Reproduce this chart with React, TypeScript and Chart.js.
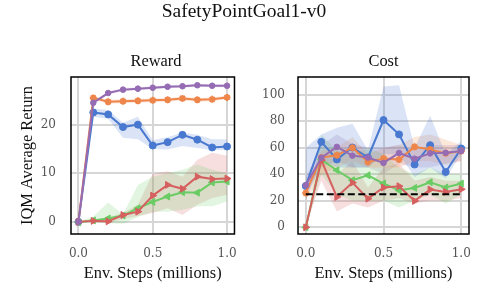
import React, { useEffect, useRef } from "react";
import { Chart, registerables } from "chart.js";
Chart.register(...registerables);

// ---------- data ----------
const STEPS = [0, 0.1, 0.2, 0.3, 0.4, 0.5, 0.6, 0.7, 0.8, 0.9, 1.0];
const X_TICKS = [0, 0.5, 1.0];
const REWARD_TICKS = [0, 10, 20];
const COST_TICKS = [0, 20, 40, 60, 80, 100];
const COST_LIMIT = 25;

// Reward panel
const R_BLUE = [0, 22.5, 22.1, 19.5, 20.0, 15.7, 16.4, 17.9, 16.9, 15.3, 15.5];
const R_BLUE_LO = [0, 21.6, 21.2, 17.3, 17.0, 15.0, 14.9, 15.6, 15.2, 14.8, 14.8];
const R_BLUE_HI = [0, 23.3, 23.0, 20.4, 21.6, 16.8, 17.4, 18.4, 17.9, 17.0, 17.0];
const R_ORANGE = [0, 25.5, 24.7, 24.8, 24.9, 25.0, 25.1, 25.4, 25.1, 25.2, 25.6];
const R_ORANGE_LO = [0, 25.1, 24.3, 24.4, 24.5, 24.6, 24.7, 25.0, 24.7, 24.8, 25.2];
const R_ORANGE_HI = [0, 25.9, 25.1, 25.2, 25.3, 25.4, 25.5, 25.8, 25.5, 25.6, 26.0];
const R_GREEN = [-0.1, 0.3, 0.7, 1.3, 2.8, 4.1, 5.2, 6.1, 6.0, 8.1, 8.3];
const R_GREEN_LO = [-0.2, -0.1, -0.3, -0.4, 1.0, 2.1, 2.1, 2.5, 3.2, 3.2, 4.2];
const R_GREEN_HI = [0, 1.1, 4.0, 1.5, 7.6, 9.3, 10.0, 10.7, 11.8, 10.7, 10.0];
const R_RED = [0, 0.2, 0.1, 1.4, 2.1, 5.4, 7.6, 6.8, 9.3, 8.8, 8.9];
const R_RED_LO = [0, 0, -0.2, 0.6, 1.2, 1.8, 2.8, 1.4, 3.5, 4.9, 5.6];
const R_RED_HI = [0, 0.5, 0.9, 1.8, 3.5, 9.9, 10.4, 9.3, 12.8, 14.2, 13.6];
const R_PURPLE = [0, 24.5, 26.5, 27.2, 27.4, 27.6, 27.8, 27.9, 28.1, 28.0, 28.0];
const R_PURPLE_LO = [0, 24.2, 26.2, 26.9, 27.1, 27.3, 27.5, 27.6, 27.8, 27.7, 27.7];
const R_PURPLE_HI = [0, 24.8, 26.8, 27.5, 27.7, 27.9, 28.1, 28.2, 28.4, 28.3, 28.3];

// Cost panel
const C_BLUE = [31.2, 64.4, 51.1, 60.1, 52.6, 80.8, 70.0, 47.3, 61.9, 41.7, 59.4];
const C_BLUE_LO = [20, 50, 45, 45, 45, 55, 55, 38, 45, 37, 55];
const C_BLUE_HI = [60, 70, 75, 78, 58, 106, 107, 60, 84, 55, 65];
const C_ORANGE = [25.9, 52.6, 54.3, 60.0, 49.3, 51.8, 51.0, 60.6, 58.7, 55.7, 57.5];
const C_ORANGE_LO = [20, 40, 45, 50, 45, 45, 45, 50, 50, 47, 50];
const C_ORANGE_HI = [30, 58, 60, 68, 55, 60, 62, 68, 70, 66, 62];
const C_GREEN = [0, 51.0, 43.0, 35.5, 39.2, 33.0, 27.9, 29.7, 34.0, 30.0, 33.0];
const C_GREEN_LO = [0, 40, 25, 20, 20, 20, 15, 20, 25, 18, 25];
const C_GREEN_HI = [0, 70, 58, 55, 60, 55, 45, 40, 45, 40, 40];
const C_RED = [0, 50.6, 22.9, 33.7, 21.6, 30.0, 31.0, 19.9, 28.5, 26.7, 28.7];
const C_RED_LO = [0, 35, 12, 18, 15, 20, 22, 18, 20, 20, 22];
const C_RED_HI = [0, 55, 40, 50, 30, 45, 48, 35, 38, 35, 35];
const C_PURPLE = [31.7, 52.4, 60.6, 54.0, 52.6, 48.5, 56.0, 51.7, 55.7, 56.2, 57.5];
const C_PURPLE_LO = [25, 45, 50, 45, 45, 40, 48, 45, 45, 48, 50];
const C_PURPLE_HI = [38, 62, 70, 63, 60, 60, 62, 58, 62, 62, 62];

// ---------- styles ----------
const SERIF = "'Liberation Serif', 'Times New Roman', serif";
const TICK_FONT = "'DejaVu Serif', serif";
const COL = {
  blue: [72, 120, 208],
  orange: [238, 133, 74],
  green: [106, 204, 100],
  red: [214, 95, 95],
  purple: [149, 108, 180],
};
const rgb = (c: number[], a = 1) => `rgba(${c[0]},${c[1]},${c[2]},${a})`;

type Series = {
  mean: number[];
  lo: number[];
  hi: number[];
  color: number[];
  pointStyle: string;
  radius: number;
  rotation: number;
  drawOrder: number;
};

const pts = (arr: number[]) => arr.map((y, i) => ({ x: STEPS[i], y }));

function buildDatasets(series: Series[]) {
  const ds: any[] = [];
  series.forEach((s, i) => {
    ds.push({
      data: pts(s.hi),
      fill: "+1",
      backgroundColor: rgb(s.color, 0.2),
      borderWidth: 0,
      pointRadius: 0,
      order: 30 + i,
    });
    ds.push({
      data: pts(s.lo),
      fill: false,
      borderWidth: 0,
      pointRadius: 0,
      order: 30 + i,
    });
  });
  series.forEach((s) => {
    ds.push({
      data: pts(s.mean),
      borderColor: rgb(s.color),
      backgroundColor: rgb(s.color),
      borderWidth: 2,
      pointStyle: s.pointStyle,
      pointRadius: s.radius,
      pointRotation: s.rotation,
      pointBorderColor: rgb(s.color),
      pointBackgroundColor: rgb(s.color),
      pointBorderWidth: s.pointStyle === "star" ? 2 : 1,
      fill: false,
      tension: 0,
      order: s.drawOrder,
    });
  });
  return ds;
}

const framePlugin = {
  id: "frame",
  afterDraw(chart: any) {
    const { ctx, chartArea } = chart;
    const { left, top, right, bottom } = chartArea;
    ctx.save();
    ctx.strokeStyle = "#000";
    ctx.lineWidth = 1.5;
    ctx.strokeRect(left, top, right - left, bottom - top);
    ctx.restore();
  },
};

function makeConfig(
  datasets: any[],
  yMin: number,
  yMax: number,
  yTicks: number[],
  yWidth: number,
  yPad: number,
  padRight: number,
  yTitle: string | null
): any {
  return {
    type: "line",
    data: { datasets },
    plugins: [framePlugin],
    options: {
      responsive: false,
      animation: false,
      devicePixelRatio: 1,
      layout: { padding: { top: 77, right: padRight, left: 0, bottom: 0 } },
      plugins: { legend: { display: false }, tooltip: { enabled: false }, title: { display: false } },
      scales: {
        x: {
          type: "linear",
          min: -0.05,
          max: 1.05,
          afterBuildTicks: (s: any) => {
            s.ticks = X_TICKS.map((v) => ({ value: v }));
          },
          afterFit: (s: any) => {
            s.height = 68;
          },
          grid: { color: "#d6d6d6", lineWidth: 2, drawTicks: false },
          border: { display: false },
          ticks: {
            padding: 13,
            autoSkip: false,
            maxRotation: 0,
            color: "#555",
            font: { family: TICK_FONT, size: 12 },
            callback: (v: any) => Number(v).toFixed(1),
          },
          title: {
            display: true,
            text: "Env. Steps (millions)",
            color: "#111",
            font: { family: SERIF, size: 16.4 },
            padding: { top: 0, bottom: 18 },
          },
        },
        y: {
          type: "linear",
          min: yMin,
          max: yMax,
          afterBuildTicks: (s: any) => {
            s.ticks = yTicks.map((v) => ({ value: v }));
          },
          afterFit: (s: any) => {
            s.width = yWidth;
          },
          grid: { color: "#d6d6d6", lineWidth: 2, drawTicks: false },
          border: { display: false },
          ticks: {
            padding: yPad,
            autoSkip: false,
            color: "#555",
            font: { family: TICK_FONT, size: 12 },
            callback: (v: any) => String(v),
          },
          title: {
            display: !!yTitle,
            text: yTitle || "",
            color: "#111",
            font: { family: SERIF, size: 16.4 },
            padding: { top: 17.5, bottom: 0 },
          },
        },
      },
    },
  };
}

const rewardSeries: Series[] = [
  { mean: R_BLUE, lo: R_BLUE_LO, hi: R_BLUE_HI, color: COL.blue, pointStyle: "circle", radius: 3.5, rotation: 0, drawOrder: 5 },
  { mean: R_ORANGE, lo: R_ORANGE_LO, hi: R_ORANGE_HI, color: COL.orange, pointStyle: "star", radius: 3.5, rotation: 0, drawOrder: 4 },
  { mean: R_GREEN, lo: R_GREEN_LO, hi: R_GREEN_HI, color: COL.green, pointStyle: "triangle", radius: 4, rotation: -90, drawOrder: 3 },
  { mean: R_RED, lo: R_RED_LO, hi: R_RED_HI, color: COL.red, pointStyle: "triangle", radius: 4, rotation: 90, drawOrder: 2 },
  { mean: R_PURPLE, lo: R_PURPLE_LO, hi: R_PURPLE_HI, color: COL.purple, pointStyle: "circle", radius: 2.8, rotation: 0, drawOrder: 1 },
];

const costSeries: Series[] = [
  { mean: C_BLUE, lo: C_BLUE_LO, hi: C_BLUE_HI, color: COL.blue, pointStyle: "circle", radius: 3.5, rotation: 0, drawOrder: 5 },
  { mean: C_ORANGE, lo: C_ORANGE_LO, hi: C_ORANGE_HI, color: COL.orange, pointStyle: "star", radius: 3.5, rotation: 0, drawOrder: 4 },
  { mean: C_GREEN, lo: C_GREEN_LO, hi: C_GREEN_HI, color: COL.green, pointStyle: "triangle", radius: 4, rotation: -90, drawOrder: 3 },
  { mean: C_RED, lo: C_RED_LO, hi: C_RED_HI, color: COL.red, pointStyle: "triangle", radius: 4, rotation: 90, drawOrder: 2 },
  { mean: C_PURPLE, lo: C_PURPLE_LO, hi: C_PURPLE_HI, color: COL.purple, pointStyle: "circle", radius: 2.8, rotation: 0, drawOrder: 1 },
];

export default function App() {
  const leftRef = useRef<HTMLCanvasElement | null>(null);
  const rightRef = useRef<HTMLCanvasElement | null>(null);

  useEffect(() => {
    const leftDs = buildDatasets(rewardSeries);
    const rightDs = buildDatasets(costSeries);
    rightDs.push({
      data: [
        { x: STEPS[0], y: COST_LIMIT },
        { x: STEPS[STEPS.length - 1], y: COST_LIMIT },
      ],
      borderColor: "#000",
      borderWidth: 2,
      borderDash: [7, 3.5],
      pointRadius: 0,
      fill: false,
      order: 0,
    });
    const c1 = new Chart(leftRef.current as HTMLCanvasElement,
      makeConfig(leftDs, -2.5, 29.8, REWARD_TICKS, 71, 15, 9, "IQM Average Return"));
    const c2 = new Chart(rightRef.current as HTMLCanvasElement,
      makeConfig(rightDs, -5.0, 113.2, COST_TICKS, 48, 13, 19, null));
    return () => {
      c1.destroy();
      c2.destroy();
    };
  }, []);

  const txt = (size: number): React.CSSProperties => ({
    position: "absolute",
    fontFamily: SERIF,
    fontSize: size,
    lineHeight: `${size}px`,
    color: "#111",
    textAlign: "center",
    whiteSpace: "nowrap",
  });

  return (
    <div style={{ position: "fixed", left: 0, top: 0, width: 488, height: 302, background: "#fff", overflow: "hidden" }}>
      <canvas ref={leftRef} width={250} height={302} style={{ position: "absolute", left: 0, top: 0, width: 250, height: 302 }} />
      <canvas ref={rightRef} width={238} height={302} style={{ position: "absolute", left: 250, top: 0, width: 238, height: 302 }} />
      <div style={{ ...txt(19.5), left: 0, width: 488, top: 1 }}>SafetyPointGoal1-v0</div>
      <div style={{ ...txt(16.4), left: 71, width: 170, top: 53 }}>Reward</div>
      <div style={{ ...txt(16.4), left: 298, width: 171, top: 53 }}>Cost</div>
    </div>
  );
}
